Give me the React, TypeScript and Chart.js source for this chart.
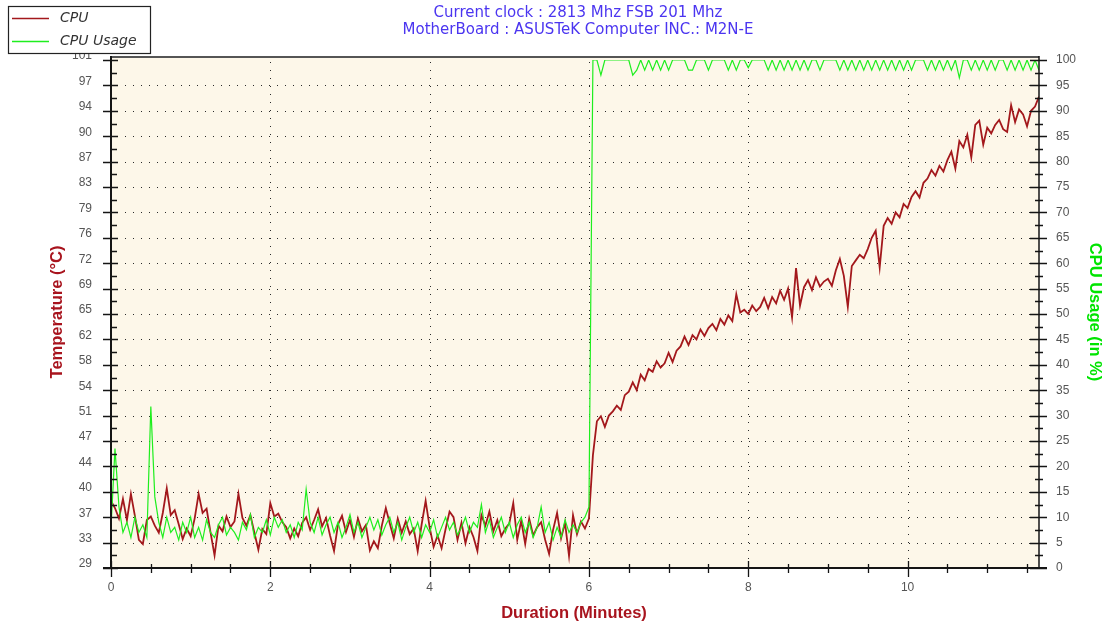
import React, { useEffect, useRef } from "react";
import { Chart, registerables } from "chart.js";

Chart.register(...registerables);

const TITLE_LINES = [
  "Current clock : 2813 Mhz FSB 201 Mhz",
  "MotherBoard : ASUSTeK Computer INC.: M2N-E",
];
const SERIES_NAMES = ["CPU", "CPU Usage"];
const X_TITLE = "Duration (Minutes)";
const Y_LEFT_TITLE = "Temperature (°C)";
const Y_RIGHT_TITLE = "CPU Usage (in %)";

const TEMP_TICK_LABELS = [
  "29", "33", "37", "40", "44", "47", "51", "54", "58", "62", "65",
  "69", "72", "76", "79", "83", "87", "90", "94", "97", "101",
];
const TEMP_MIN = 29;
const TEMP_MAX = 101;
const USAGE_MIN = 0;
const USAGE_MAX = 100;
const DURATION_MAX = 11.65;
const SAMPLE_STEP_MIN = 0.05;

// CPU temperature (°C), one sample every 0.05 min
const cpuTemperature = [
  38.5, 37.5, 36.0, 38.8, 35.8, 39.5, 36.4, 33.0, 32.4, 35.8,
  36.3, 35.0, 34.0, 36.8, 40.3, 36.5, 37.2, 35.2, 33.1, 34.6,
  33.5, 36.0, 39.5, 36.8, 37.4, 34.0, 30.8, 35.0, 34.2, 36.3,
  34.8, 35.6, 39.5, 36.1, 35.0, 36.5, 34.0, 31.6, 34.5, 33.8,
  38.2, 36.3, 36.7, 35.5, 34.8, 33.2, 34.6, 33.5, 35.4, 36.2,
  34.4, 35.8, 37.3, 34.9, 36.1, 33.6, 31.4, 35.2, 36.4, 34.1,
  35.8, 33.4, 36.0, 34.2, 35.1, 31.5, 32.8, 31.8, 35.0, 37.5,
  35.3, 33.2, 36.0, 34.0, 35.6, 33.8, 34.6, 31.4, 35.2, 38.5,
  34.8, 32.0, 33.6, 31.8, 34.5, 37.0, 36.2, 33.0, 35.4, 32.5,
  34.8, 33.4, 31.4, 36.5, 35.0, 37.0, 34.2, 35.8, 33.5, 34.6,
  35.3, 38.2, 33.0, 35.7, 32.4, 36.0, 33.6, 34.8, 35.5, 33.0,
  31.0, 34.4, 36.8, 33.2, 35.4, 30.7, 36.5, 33.8, 35.6, 34.6,
  36.0, 45.0, 49.8, 50.5, 49.0, 50.6, 51.2, 52.0, 51.4, 53.5,
  54.0, 55.3, 54.2, 56.4, 55.6, 57.2, 56.8, 58.3, 57.4, 58.0,
  59.5, 58.2, 59.8, 60.4, 61.8, 60.6, 62.0, 61.4, 62.8, 61.9,
  63.0, 63.6, 62.7, 64.3, 63.5, 64.8, 64.0, 67.8, 65.2, 65.6,
  65.0, 66.2, 65.4, 66.0, 67.3, 65.8, 67.4, 66.5, 68.3, 67.0,
  68.6, 64.5, 71.5, 66.2, 68.8, 69.8, 68.4, 70.2, 68.9, 69.6,
  70.0, 69.0, 71.2, 72.8, 70.4, 66.0, 71.8, 72.6, 73.4, 72.9,
  74.2, 75.8, 76.8, 71.6, 77.5, 78.6, 77.8, 79.4, 78.7, 80.6,
  80.0, 81.6, 82.4, 81.5, 83.6, 84.2, 85.4, 84.6, 86.0, 85.2,
  86.8, 88.0, 85.6, 89.5, 88.6, 90.4, 87.2, 91.8, 92.4, 89.0,
  91.4, 90.6, 91.8, 92.5, 91.2, 90.8, 94.6, 92.2, 94.0, 93.3,
  91.6, 93.8, 94.4, 95.8,
];

// CPU usage (%), one sample every 0.05 min
const cpuUsage = [
  8, 23.5, 12, 7, 9, 6, 10, 7, 8.5, 6,
  31.8, 14, 9, 6, 10, 7, 8, 5.5, 9, 7,
  10, 6, 8, 5.5, 9.5, 7, 6, 8.5, 10, 6.5,
  8, 7, 5.5, 9, 7.5, 10.5, 6, 8, 7, 9.5,
  6.5, 10, 8, 9.5, 7, 8.5, 6, 9, 7.5, 15.5,
  9, 7, 10, 6.5, 8.5, 10, 7, 9, 6, 8,
  10.5, 7, 9, 6, 8, 10, 7.5, 9.5, 6.5, 8.5,
  10, 7, 9, 5.5, 8, 10, 7, 9, 6, 8.5,
  7, 9.5, 6, 8, 10, 7.5, 9, 6.5, 8, 10,
  7, 9, 8, 12.5, 7, 9.5, 6, 8, 10, 7,
  9, 6, 8.5, 10, 7, 9, 6, 8, 12, 7,
  9, 5.5, 8, 6, 9.5, 7, 8.5, 7, 9, 10,
  12, 100, 100, 97, 100, 100, 100, 100, 100, 100,
  100, 97, 98, 100, 98, 100, 98, 100, 98, 100,
  98, 100, 100, 100, 100, 98, 98, 100, 100, 100,
  98, 100, 100, 100, 100, 98, 100, 98, 100, 100,
  98.5, 100, 100, 100, 100, 98, 100, 98, 100, 98,
  100, 98, 100, 98, 100, 98, 100, 100, 98, 100,
  100, 100, 100, 98, 100, 98, 100, 98, 100, 98,
  100, 98, 100, 98, 100, 98, 100, 98, 100, 98,
  100, 98, 100, 100, 100, 98, 100, 98, 100, 98,
  100, 98, 100, 96.5, 100, 100, 98, 100, 98, 100,
  98, 100, 98, 100, 100, 98, 100, 98, 100, 98,
  100, 98, 100, 98,
];

const toPoints = (values: number[]) =>
  values.map((v, i) => ({ x: +(i * SAMPLE_STEP_MIN).toFixed(2), y: v }));

const PLOT_BG = "#FDF7E9";
const RED = "#A3181C";
const GREEN = "#1EEE1E";

const decorPlugin = {
  id: "decor",
  beforeDatasetsDraw(chart: any) {
    const { ctx, chartArea: a, scales } = chart;
    ctx.save();
    ctx.fillStyle = PLOT_BG;
    ctx.fillRect(a.left, a.top - 3, a.right - a.left, a.bottom - a.top + 3);
    ctx.fillStyle = "#2a2a2a";
    const yL = scales.yTemp;
    yL.ticks.forEach((t: any, i: number) => {
      if (i === 0 || i === yL.ticks.length - 1) return;
      const y = Math.round(yL.getPixelForValue(t.value));
      for (let x = a.left + 6; x < a.right - 3; x += 8) ctx.fillRect(x, y, 1, 1);
    });
    scales.x.ticks.forEach((t: any) => {
      if (t.value === 0) return;
      const x = Math.round(scales.x.getPixelForValue(t.value));
      for (let y = a.top + 2; y < a.bottom - 2; y += 8) ctx.fillRect(x, y, 1, 1);
    });
    ctx.restore();
  },
  afterDraw(chart: any) {
    const { ctx, chartArea: a, scales } = chart;
    const xS = scales.x;
    const yL = scales.yTemp;
    const yR = scales.yUsage;
    ctx.save();
    // frame / axes
    ctx.strokeStyle = "#555";
    ctx.lineWidth = 2;
    ctx.beginPath();
    ctx.moveTo(a.left, a.top - 3);
    ctx.lineTo(a.right, a.top - 3);
    ctx.stroke();
    ctx.strokeStyle = "#151515";
    ctx.lineWidth = 2;
    ctx.beginPath();
    ctx.moveTo(a.left, a.top - 4);
    ctx.lineTo(a.left, a.bottom + 1);
    ctx.moveTo(a.left - 8, a.bottom);
    ctx.lineTo(a.right + 8, a.bottom);
    ctx.stroke();
    ctx.lineWidth = 1.5;
    ctx.beginPath();
    ctx.moveTo(a.right, a.top - 4);
    ctx.lineTo(a.right, a.bottom);
    ctx.stroke();

    // ticks
    ctx.lineWidth = 1.3;
    ctx.beginPath();
    const nL = TEMP_TICK_LABELS.length;
    for (let i = 0; i < nL; i++) {
      const v = TEMP_MIN + (i * (TEMP_MAX - TEMP_MIN)) / (nL - 1);
      const y = Math.round(yL.getPixelForValue(v)) + 0.5;
      ctx.moveTo(a.left - 8, y);
      ctx.lineTo(a.left + 7, y);
      if (i < nL - 1) {
        const vm = v + (TEMP_MAX - TEMP_MIN) / (nL - 1) / 2;
        const ym = Math.round(yL.getPixelForValue(vm)) + 0.5;
        ctx.moveTo(a.left - 1, ym);
        ctx.lineTo(a.left + 6, ym);
      }
    }
    for (let v = USAGE_MIN; v <= USAGE_MAX; v += 5) {
      const y = Math.round(yR.getPixelForValue(v)) + 0.5;
      ctx.moveTo(a.right - 9, y);
      ctx.lineTo(a.right + 8, y);
      if (v < USAGE_MAX) {
        const ym = Math.round(yR.getPixelForValue(v + 2.5)) + 0.5;
        ctx.moveTo(a.right - 4, ym);
        ctx.lineTo(a.right + 4, ym);
      }
    }
    for (let k = 0; k * 0.5 <= DURATION_MAX; k++) {
      const v = k * 0.5;
      const x = Math.round(xS.getPixelForValue(v)) + 0.5;
      if (k % 4 === 0) {
        ctx.moveTo(x, a.bottom - 7);
        ctx.lineTo(x, a.bottom + 9);
      } else {
        ctx.moveTo(x, a.bottom - 4);
        ctx.lineTo(x, a.bottom + 5);
      }
    }
    ctx.stroke();

    // axis titles
    ctx.font = "bold 16.5px 'Liberation Sans', Arial, sans-serif";
    ctx.textAlign = "center";
    ctx.textBaseline = "middle";
    ctx.fillStyle = "#A8141E";
    ctx.fillText(X_TITLE, 574, 613);
    ctx.save();
    ctx.translate(57, 312);
    ctx.rotate(-Math.PI / 2);
    ctx.fillText(Y_LEFT_TITLE, 0, 0);
    ctx.restore();
    ctx.save();
    ctx.fillStyle = "#00E400";
    ctx.translate(1095, 312);
    ctx.rotate(Math.PI / 2);
    ctx.fillText(Y_RIGHT_TITLE, 0, 0);
    ctx.restore();

    // header text
    ctx.font = "15px 'DejaVu Sans', Verdana, sans-serif";
    ctx.fillStyle = "#4B35F0";
    ctx.fillText(TITLE_LINES[0], 578, 13);
    ctx.fillText(TITLE_LINES[1], 578, 30);

    // legend
    ctx.fillStyle = "#ffffff";
    ctx.fillRect(8, 6, 142, 48);
    ctx.strokeStyle = "#222";
    ctx.lineWidth = 1.2;
    ctx.strokeRect(8.5, 6.5, 142, 47);
    ctx.lineWidth = 1.5;
    ctx.strokeStyle = RED;
    ctx.beginPath();
    ctx.moveTo(12, 18.5);
    ctx.lineTo(49, 18.5);
    ctx.stroke();
    ctx.strokeStyle = GREEN;
    ctx.beginPath();
    ctx.moveTo(12, 41.5);
    ctx.lineTo(49, 41.5);
    ctx.stroke();
    ctx.fillStyle = "#333";
    ctx.textAlign = "left";
    ctx.font = "italic 14px 'DejaVu Sans', Verdana, sans-serif";
    ctx.fillText(SERIES_NAMES[0], 60, 18);
    ctx.fillText(SERIES_NAMES[1], 60, 41);
    ctx.restore();
  },
};

export default function App() {
  const canvasRef = useRef<HTMLCanvasElement | null>(null);

  useEffect(() => {
    if (!canvasRef.current) return;
    const tickFont = { family: "'Liberation Sans', Arial, sans-serif", size: 12 };
    const chart = new Chart(canvasRef.current, {
      type: "line",
      data: {
        datasets: [
          {
            label: SERIES_NAMES[0],
            data: toPoints(cpuTemperature),
            yAxisID: "yTemp",
            borderColor: RED,
            borderWidth: 1.8,
            pointRadius: 0,
            tension: 0,
            order: 2,
          },
          {
            label: SERIES_NAMES[1],
            data: toPoints(cpuUsage),
            yAxisID: "yUsage",
            borderColor: GREEN,
            borderWidth: 1.2,
            pointRadius: 0,
            tension: 0,
            order: 1,
          },
        ],
      },
      options: {
        animation: false,
        responsive: false,
        devicePixelRatio: 1,
        parsing: false as any,
        normalized: true,
        layout: { padding: { top: 60, left: 0, right: 0, bottom: 0 } },
        plugins: {
          legend: { display: false },
          title: { display: false },
          tooltip: { enabled: false },
        },
        scales: {
          x: {
            type: "linear",
            min: 0,
            max: DURATION_MAX,
            grid: { display: false, drawTicks: false },
            border: { display: false },
            ticks: {
              stepSize: 2,
              includeBounds: false,
              color: "#555",
              font: tickFont,
              padding: 12,
              maxRotation: 0,
              callback: (v: any) => String(v),
            },
            afterFit: (s: any) => {
              s.height = 60;
            },
          },
          yTemp: {
            type: "linear",
            position: "left",
            min: TEMP_MIN,
            max: TEMP_MAX,
            grid: { display: false, drawTicks: false },
            border: { display: false },
            afterBuildTicks: (s: any) => {
              s.ticks = TEMP_TICK_LABELS.map((_, i) => ({
                value: TEMP_MIN + (i * (TEMP_MAX - TEMP_MIN)) / (TEMP_TICK_LABELS.length - 1),
              }));
            },
            ticks: {
              autoSkip: false,
              color: "#555",
              font: tickFont,
              padding: 19,
              labelOffset: -4,
              callback: (_v: any, i: number) => TEMP_TICK_LABELS[i],
            },
            afterFit: (s: any) => {
              s.width = 111;
            },
          },
          yUsage: {
            type: "linear",
            position: "right",
            min: USAGE_MIN,
            max: USAGE_MAX,
            grid: { display: false, drawTicks: false },
            border: { display: false },
            ticks: {
              stepSize: 5,
              autoSkip: false,
              color: "#555",
              font: tickFont,
              padding: 17,
            },
            afterFit: (s: any) => {
              s.width = 72;
            },
          },
        },
      },
      plugins: [decorPlugin],
    });
    return () => chart.destroy();
  }, []);

  return (
    <div style={{ position: "absolute", left: 0, top: 0, width: 1111, height: 628, background: "#fff" }}>
      <canvas ref={canvasRef} width={1111} height={628} style={{ display: "block" }} />
    </div>
  );
}
